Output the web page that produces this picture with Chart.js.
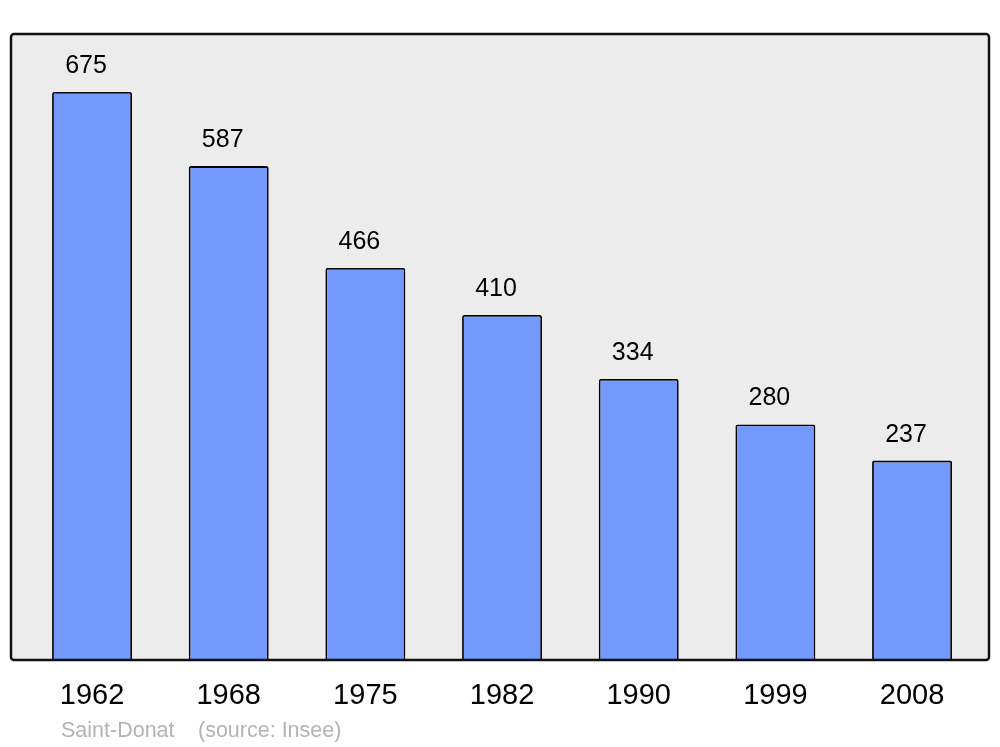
<!DOCTYPE html>
<html lang="fr">
  <head>
    <meta charset="UTF-8" />
    <script src="https://cdn.jsdelivr.net/npm/chart.js@4.4.0/dist/chart.umd.min.js"></script>
    <title>Saint-Donat population</title>
    <style>
      body { margin: 0; background: #fff; }
      #wrap { position: relative; width: 1000px; height: 747px; }
    </style>
  </head>
  <body>
    <div id="wrap"><canvas id="chart" width="1000" height="747"></canvas></div>
    <script>
      // population by census year (Insee)
      const years = ["1962", "1968", "1975", "1982", "1990", "1999", "2008"];
      const population = [675, 587, 466, 410, 334, 280, 237];
      const positions = [0, 1, 2, 3, 4, 5, 6];

      // grey panel + frame behind/around the plot, values above bars, source line
      const framePlugin = {
        id: "frame",
        beforeDraw(chart) {
          const { ctx, chartArea: a } = chart;
          ctx.save();
          ctx.fillStyle = "#ececec";
          ctx.beginPath();
          ctx.roundRect(a.left, a.top, a.right - a.left, a.bottom - a.top, 3);
          ctx.fill();
          ctx.restore();
        },
        afterDraw(chart) {
          const { ctx, chartArea: a } = chart;
          ctx.save();
          ctx.strokeStyle = "#111";
          ctx.lineWidth = 2.5;
          ctx.beginPath();
          ctx.roundRect(a.left, a.top, a.right - a.left, a.bottom - a.top, 3);
          ctx.stroke();

          const meta = chart.getDatasetMeta(0);
          ctx.fillStyle = "#000";
          ctx.font = "25px 'Liberation Sans', Arial, sans-serif";
          ctx.textAlign = "center";
          ctx.textBaseline = "alphabetic";
          meta.data.forEach((bar, i) => {
            ctx.fillText(String(population[i]), bar.x - 6, bar.y - 19);
          });

          ctx.fillStyle = "#b3b3b3";
          ctx.font = "21.5px 'Liberation Sans', Arial, sans-serif";
          ctx.textAlign = "left";
          ctx.fillText("Saint-Donat", 61, 737);
          ctx.fillText("(source: Insee)", 198, 737);
          ctx.restore();
        },
      };

      const ctx = document.getElementById("chart").getContext("2d");
      new Chart(ctx, {
        type: "bar",
        data: {
          datasets: [
            {
              data: positions.map((x, i) => ({ x: x, y: population[i] })),
              backgroundColor: "#7399ff",
              borderColor: "#000",
              borderWidth: 1.8,
              borderRadius: 2,
              categoryPercentage: 0.585,
              barPercentage: 1,
            },
          ],
        },
        options: {
          responsive: false,
          animation: false,
          layout: { padding: { left: 11, right: 11, top: 34, bottom: 15 } },
          plugins: { legend: { display: false }, tooltip: { enabled: false } },
          scales: {
            x: {
              type: "linear",
              offset: false,
              min: -0.593,
              max: 6.563,
              grid: { display: false, drawTicks: false },
              border: { display: false },
              afterBuildTicks: (axis) => {
                axis.ticks = positions.map((v) => ({ value: v }));
              },
              ticks: {
                padding: 18.6,
                color: "#000",
                font: { size: 29, family: "'Liberation Sans', Arial, sans-serif" },
                callback: (v) => years[v],
                maxRotation: 0,
                autoSkip: false,
              },
            },
            y: {
              display: false,
              min: 0,
              max: 744,
            },
          },
        },
        plugins: [framePlugin],
      });
    </script>
  </body>
</html>
